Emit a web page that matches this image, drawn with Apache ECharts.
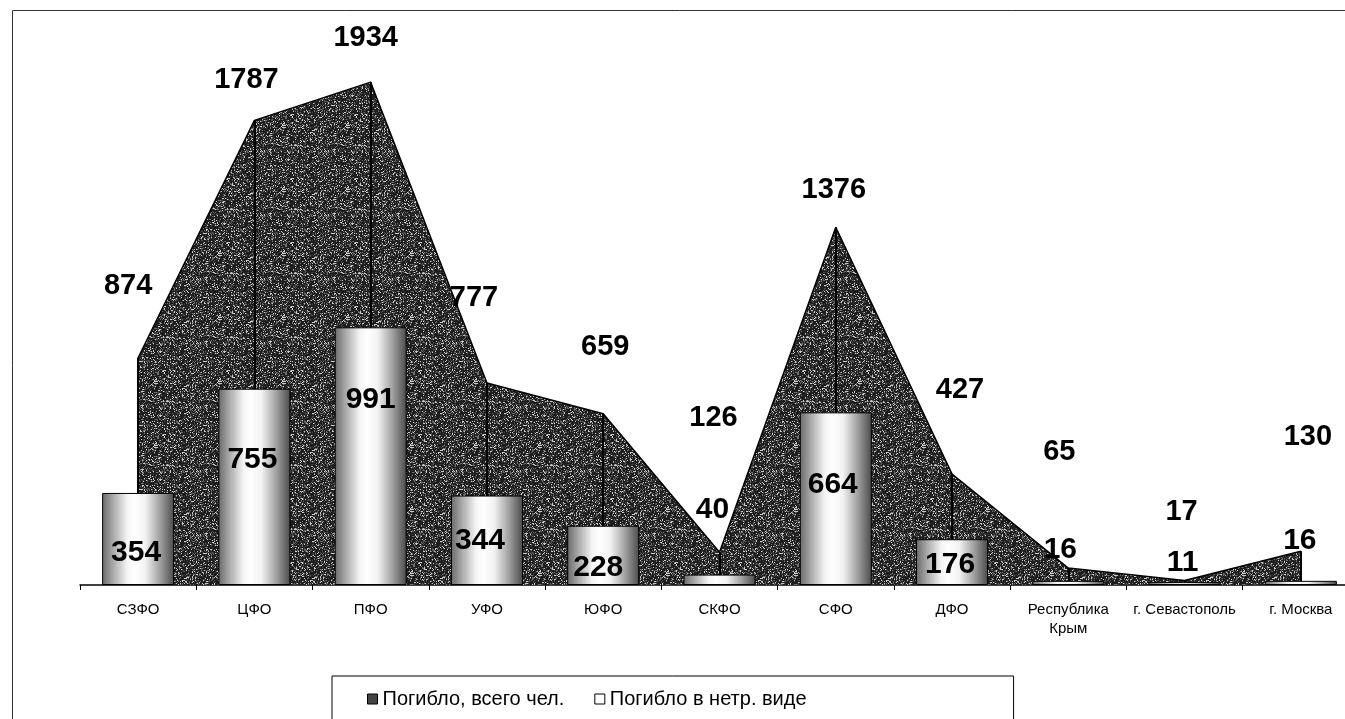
<!DOCTYPE html>
<html>
<head>
<meta charset="utf-8">
<script src="https://cdn.jsdelivr.net/npm/echarts@6/dist/echarts.min.js"></script>
<style>
html,body{margin:0;padding:0;background:#fff;}
#chart{width:1345px;height:719px;}
</style>
</head>
<body>
<div id="chart"></div>
<script>
// ---- data ----
const categories = ['СЗФО','ЦФО','ПФО','УФО','ЮФО','СКФО','СФО','ДФО','Республика\nКрым','г. Севастополь','г. Москва'];
const totalDead = [874,1787,1934,777,659,126,1376,427,65,17,130];
const deadIntoxicated = [354,755,991,344,228,40,664,176,16,11,16];
const seriesNames = ['Погибло, всего чел.','Погибло в нетр. виде'];

// ---- styling (label offsets, not data) ----
const totalLabelOffsets = [[-10,-72],[-8,-40],[-5,-44],[-13,-85],[2,-67],[-6,-134],[-2,-37],[8,-84],[-9,-116],[-3,-69],[7,-114]];
const barLabelOffsets = [[-2,14],[-2,-27],[0,-56],[-7,0],[-5,12],[-7,-70],[-3,-14],[-2,3],[-8,-33],[-2,-21],[-1,-42]];

// noise texture for the area fill
function makePattern(){
  const c = document.createElement('canvas');
  c.width = 64; c.height = 64;
  const ctx = c.getContext('2d');
  const img = ctx.createImageData(64,64);
  for (let y=0;y<64;y++){
    for (let x=0;x<64;x++){
      const h = ((x*73856093) ^ (y*19349663) ^ ((x+y)*83492791)) >>> 0;
      const r = h % 100;
      let g = 30;
      if (r < 10) g = 200; else if (r < 24) g = 110; else if (r < 36) g = 70;
      const k = (y*64+x)*4;
      img.data[k]=g; img.data[k+1]=g; img.data[k+2]=g; img.data[k+3]=255;
    }
  }
  ctx.putImageData(img,0,0);
  return c;
}
const pattern = makePattern();

const font = 'Liberation Sans, Arial, sans-serif';
const chart = echarts.init(document.getElementById('chart'), null, {renderer:'canvas'});

chart.setOption({
  animation:false,
  backgroundColor:'#fff',
  graphic:[{
    type:'rect', silent:true, z:0,
    shape:{x:12.5,y:10.5,width:1400,height:800},
    style:{fill:null, stroke:'#333', lineWidth:1}
  }],
  grid:{left:80, width:1279, top:65, bottom:134, outerBoundsMode:'none', containLabel:false},
  legend:{
    left:332, top:676,
    padding:[13,207,30,35],
    borderColor:'#000', borderWidth:1,
    itemGap:30, itemWidth:10, itemHeight:10,
    textStyle:{fontFamily:font, fontSize:20, color:'#000'},
    data:[
      {name:seriesNames[0], icon:'rect', itemStyle:{color:'#444', borderColor:'#000', borderWidth:1}},
      {name:seriesNames[1], icon:'rect', itemStyle:{color:'#fff', borderColor:'#000', borderWidth:1}}
    ]
  },
  xAxis:{
    type:'category',
    data:categories,
    boundaryGap:true,
    axisLine:{lineStyle:{color:'#000', width:1.5}},
    axisTick:{show:true, length:5, lineStyle:{color:'#000'}},
    axisLabel:{fontFamily:font, fontSize:15, color:'#000', margin:15, interval:0, lineHeight:19}
  },
  yAxis:{
    type:'value', min:0, max:2000, show:false,
    splitLine:{show:false}
  },
  series:[
    {
      name:seriesNames[0],
      type:'line',
      z:2,
      data:totalDead.map((v,i)=>({value:v, label:{offset:totalLabelOffsets[i]}})),
      symbol:'circle', symbolSize:1,
      itemStyle:{color:'#000'},
      lineStyle:{color:'#000', width:1.5},
      areaStyle:{color:{image:pattern, repeat:'repeat'}, opacity:1},
      label:{show:true, position:'inside', fontFamily:font, fontSize:29, fontWeight:'bold', color:'#000'},
      markLine:{
        silent:true,
        z:3,
        symbol:['none','none'],
        label:{show:false},
        lineStyle:{color:'#000', width:2, type:'solid'},
        data:totalDead.map((v,i)=>[{coord:[i,0]},{coord:[i,v]}])
      }
    },
    {
      name:seriesNames[1],
      type:'bar',
      z:4,
      barWidth:72,
      data:deadIntoxicated.map((v,i)=>({value:v, label:{offset:barLabelOffsets[i]}})),
      itemStyle:{
        color:{type:'linear', x:0, y:0, x2:1, y2:0, colorStops:[
          {offset:0, color:'#6a6a6a'},
          {offset:0.15, color:'#a8a8a8'},
          {offset:0.35, color:'#f5f5f5'},
          {offset:0.45, color:'#ffffff'},
          {offset:0.6, color:'#f2f2f2'},
          {offset:0.82, color:'#9a9a9a'},
          {offset:1, color:'#4a4a4a'}
        ]},
        borderColor:'#000', borderWidth:1
      },
      label:{show:true, position:'inside', fontFamily:font, fontSize:30, fontWeight:'bold', color:'#000'}
    }
  ]
});
</script>
</body>
</html>
